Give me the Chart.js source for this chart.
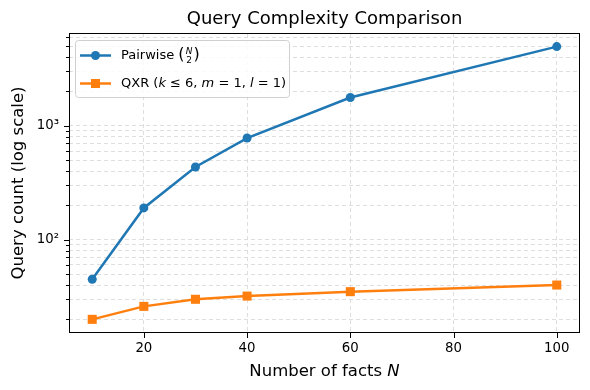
<!DOCTYPE html>
<html>
<head>
<meta charset="utf-8">
<script src="https://cdn.jsdelivr.net/npm/chart.js@4"></script>
<style>
  html, body { margin: 0; padding: 0; background: #fff; }
  #wrap { width: 590px; height: 390px; }
</style>
</head>
<body>
<div id="wrap"><canvas id="cmpChart" width="590" height="390"></canvas></div>
<script>
// data
const facts = [10, 20, 30, 40, 60, 100];
const pairwise = [45, 190, 435, 780, 1770, 4950];
const qxr = [20, 26, 30, 32, 35, 40];
const xTicks = [20, 40, 60, 80, 100];
const yMajor = [100, 1000];
const yMinor = [20, 30, 40, 50, 60, 70, 80, 90, 200, 300, 400, 500, 600, 700, 800, 900, 2000, 3000, 4000, 5000, 6000];

const FONT = "'DejaVu Sans', sans-serif";
const BLUE = '#1f77b4';
const ORANGE = '#ff7f0e';

// draws a run of text pieces, some of them italic
function drawRuns(ctx, runs, x, y, size) {
    runs.forEach(r => {
        ctx.font = (r[1] ? 'oblique ' : '') + size + 'px ' + FONT;
        ctx.fillText(r[0], x, y);
        x += ctx.measureText(r[0]).width;
    });
    return x;
}
function runsWidth(ctx, runs, size) {
    let w = 0;
    runs.forEach(r => {
        ctx.font = (r[1] ? 'oblique ' : '') + size + 'px ' + FONT;
        w += ctx.measureText(r[0]).width;
    });
    return w;
}

const decorations = {
    id: 'decorations',
    afterDraw(chart) {
        const ctx = chart.ctx;
        const a = chart.chartArea;
        const xs = chart.scales.x, ys = chart.scales.y;
        ctx.save();

        // frame
        ctx.strokeStyle = '#000';
        ctx.lineWidth = 1;
        ctx.strokeRect(Math.round(a.left) + 0.5, Math.round(a.top) + 0.5,
            Math.round(a.right - a.left) - 1, Math.round(a.bottom - a.top) - 1);

        // tick marks
        ctx.beginPath();
        xTicks.forEach(v => {
            const px = Math.round(xs.getPixelForValue(v)) + 0.5;
            ctx.moveTo(px, a.bottom);
            ctx.lineTo(px, a.bottom + 5);
        });
        yMajor.forEach(v => {
            const py = Math.round(ys.getPixelForValue(v)) + 0.5;
            ctx.moveTo(a.left, py);
            ctx.lineTo(a.left - 5, py);
        });
        yMinor.forEach(v => {
            const py = Math.round(ys.getPixelForValue(v)) + 0.5;
            ctx.moveTo(a.left, py);
            ctx.lineTo(a.left - 3, py);
        });
        ctx.stroke();

        ctx.fillStyle = '#000';
        const cx = (a.left + a.right) / 2;

        // title
        ctx.font = '18px ' + FONT;
        ctx.textAlign = 'center';
        ctx.textBaseline = 'alphabetic';
        ctx.fillText('Query Complexity Comparison', cx, 24);

        // x label
        ctx.textAlign = 'left';
        const xl = [['Number of facts ', false], ['N', true]];
        drawRuns(ctx, xl, cx - runsWidth(ctx, xl, 16.5) / 2, 376, 16.5);

        // y label
        ctx.save();
        ctx.translate(23, (a.top + a.bottom) / 2);
        ctx.rotate(-Math.PI / 2);
        ctx.font = '16.5px ' + FONT;
        ctx.textAlign = 'center';
        ctx.fillText('Query count (log scale)', 0, 0);
        ctx.restore();

        // legend
        const lx = 75.5, ly = 40.5, lw = 214, lh = 57;
        ctx.beginPath();
        ctx.roundRect(lx, ly, lw, lh, 3);
        ctx.fillStyle = 'rgba(255,255,255,0.85)';
        ctx.fill();
        ctx.strokeStyle = '#d0d0d0';
        ctx.lineWidth = 1;
        ctx.stroke();

        const rows = [
            { y: 55.5, color: BLUE, marker: 'circle' },
            { y: 83.5, color: ORANGE, marker: 'rect' }
        ];
        rows.forEach(r => {
            ctx.strokeStyle = r.color;
            ctx.lineWidth = 2.5;
            ctx.beginPath();
            ctx.moveTo(80, r.y);
            ctx.lineTo(111, r.y);
            ctx.stroke();
            ctx.fillStyle = r.color;
            ctx.beginPath();
            if (r.marker === 'circle') {
                ctx.arc(95.5, r.y, 4.5, 0, Math.PI * 2);
            } else {
                ctx.rect(91, r.y - 4.5, 9, 9);
            }
            ctx.fill();
        });

        ctx.fillStyle = '#000';
        ctx.textAlign = 'left';
        ctx.textBaseline = 'middle';
        // Pairwise (N over 2)
        let tx = drawRuns(ctx, [['Pairwise ', false]], 121, 55.5, 13);
        ctx.font = '16px ' + FONT;
        ctx.fillText('(', tx, 55);
        tx += ctx.measureText('(').width + 1;
        ctx.textAlign = 'center';
        ctx.font = 'oblique 9px ' + FONT;
        ctx.fillText('N', tx + 3.5, 51.5);
        ctx.font = '9px ' + FONT;
        ctx.fillText('2', tx + 3.5, 60.5);
        ctx.textAlign = 'left';
        ctx.font = '16px ' + FONT;
        ctx.fillText(')', tx + 8, 55);

        // QXR (k <= 6, m = 1, l = 1)
        drawRuns(ctx, [
            ['QXR (', false], ['k', true], [' \u2264 6, ', false], ['m', true],
            [' = 1, ', false], ['l', true], [' = 1)', false]
        ], 121, 83.5, 13);

        ctx.restore();
    }
};

const gridOpts = {
    color: '#d6d6d6',
    lineWidth: 0.8,
    drawTicks: false
};

new Chart(document.getElementById('cmpChart').getContext('2d'), {
    type: 'line',
    data: {
        labels: facts,
        datasets: [
            {
                label: 'Pairwise',
                data: facts.map((n, i) => ({ x: n, y: pairwise[i] })),
                borderColor: BLUE,
                backgroundColor: BLUE,
                borderWidth: 2.5,
                pointStyle: 'circle',
                pointRadius: 4.5,
                pointHoverRadius: 4.5,
                pointBorderWidth: 0,
                tension: 0
            },
            {
                label: 'QXR',
                data: facts.map((n, i) => ({ x: n, y: qxr[i] })),
                borderColor: ORANGE,
                backgroundColor: ORANGE,
                borderWidth: 2.5,
                pointStyle: 'rect',
                pointRadius: 6.4,
                pointHoverRadius: 6.4,
                pointBorderWidth: 0,
                tension: 0
            }
        ]
    },
    options: {
        responsive: false,
        animation: false,
        events: [],
        layout: { padding: { left: 0, top: 33, right: 10, bottom: 0 } },
        plugins: {
            legend: { display: false },
            title: { display: false },
            tooltip: { enabled: false }
        },
        scales: {
            x: {
                type: 'linear',
                min: 5.5,
                max: 104.5,
                afterBuildTicks: scale => { scale.ticks = xTicks.map(v => ({ value: v })); },
                afterFit: scale => { scale.height = 57; },
                grid: gridOpts,
                border: { display: false, dash: [4, 3] },
                ticks: {
                    color: '#000',
                    padding: 8,
                    maxRotation: 0,
                    autoSkip: false,
                    font: { family: FONT, size: 13.3 }
                }
            },
            y: {
                type: 'logarithmic',
                min: 15.18,
                max: 6516,
                afterBuildTicks: scale => {
                    scale.ticks = yMinor.concat(yMajor).sort((p, q) => p - q).map(v => ({ value: v }));
                },
                afterFit: scale => { scale.width = 69; },
                grid: gridOpts,
                border: { display: false, dash: [4, 3] },
                ticks: {
                    color: '#000',
                    padding: 10,
                    autoSkip: false,
                    font: { family: FONT, size: 13.3 },
                    callback: v => (v === 100 ? '10\u00b2' : v === 1000 ? '10\u00b3' : '')
                }
            }
        }
    },
    plugins: [decorations]
});
</script>
</body>
</html>
